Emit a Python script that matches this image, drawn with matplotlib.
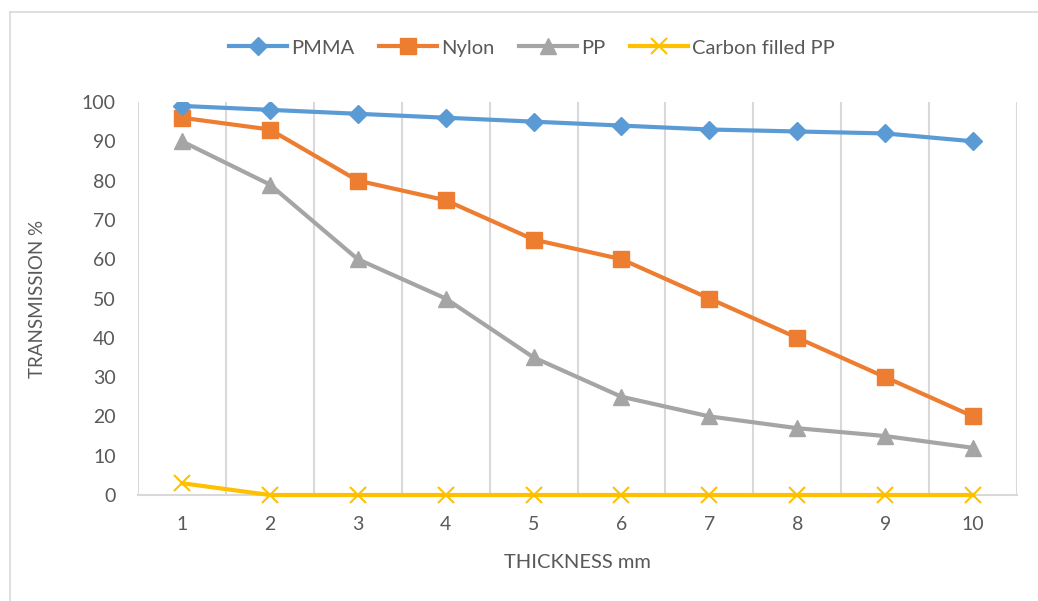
import matplotlib.pyplot as plt
from matplotlib.lines import Line2D

thickness = [1, 2, 3, 4, 5, 6, 7, 8, 9, 10]
pmma = [99, 98, 97, 96, 95, 94, 93, 92.5, 92, 90]
nylon = [96, 93, 80, 75, 65, 60, 50, 40, 30, 20]
pp = [90, 79, 60, 50, 35, 25, 20, 17, 15, 12]
carbon_pp = [3, 0, 0, 0, 0, 0, 0, 0, 0, 0]

plt.rcParams['font.family'] = ['Lato', 'DejaVu Sans']
txt = '#595959'
grid = '#d9d9d9'

fig = plt.figure(figsize=(10.38, 6.01), dpi=100)
ax = fig.add_axes([138 / 1038, 1 - 495 / 601, (1017 - 138) / 1038, (495 - 102) / 601])

# frame around the chart (only top/left visible)
fig.add_artist(Line2D([10 / 1038, 10 / 1038], [0, 1 - 12 / 601], color=grid, lw=1.2))
fig.add_artist(Line2D([10 / 1038, 1], [1 - 12 / 601, 1 - 12 / 601], color=grid, lw=1.2))

ax.plot(thickness, pmma, color='#5b9bd5', lw=3, marker='D', ms=9, label='PMMA', zorder=5)
ax.plot(thickness, nylon, color='#ed7d31', lw=3, marker='s', ms=11, label='Nylon', zorder=4)
ax.plot(thickness, pp, color='#a5a5a5', lw=3, marker='^', ms=11, label='PP', zorder=3)
ax.plot(thickness, carbon_pp, color='#ffc000', lw=3, marker='x', ms=11, mew=1.5,
        label='Carbon filled PP', zorder=6, clip_on=False)

ax.set_xlim(0.5, 10.5)
ax.set_ylim(0, 100)
ax.set_yticks(range(0, 101, 10))
ax.set_xticks(thickness)
ax.set_xticks([i + 0.5 for i in range(0, 11)], minor=True)
ax.xaxis.grid(True, which='minor', color=grid, lw=1.5)
ax.tick_params(which='both', length=0)
ax.tick_params(axis='x', pad=15, labelsize=14, colors=txt)
ax.tick_params(axis='y', pad=16, labelsize=14, colors=txt)
for s in ['top', 'right', 'left']:
    ax.spines[s].set_visible(False)
ax.spines['bottom'].set_color(grid)
ax.spines['bottom'].set_linewidth(1.5)

ax.set_xlabel('THICKNESS mm', fontsize=14.5, color=txt, labelpad=15)
ax.set_ylabel('TRANSMISSION %', fontsize=13.5, color=txt, labelpad=26)

leg = fig.legend(loc='center', bbox_to_anchor=(532 / 1038, 1 - 48 / 601), ncol=4,
                 frameon=False, fontsize=14.5, handlelength=2.9, handletextpad=0.2,
                 columnspacing=1.2)
for t in leg.get_texts():
    t.set_color(txt)

fig.savefig('out.png', dpi=100)
